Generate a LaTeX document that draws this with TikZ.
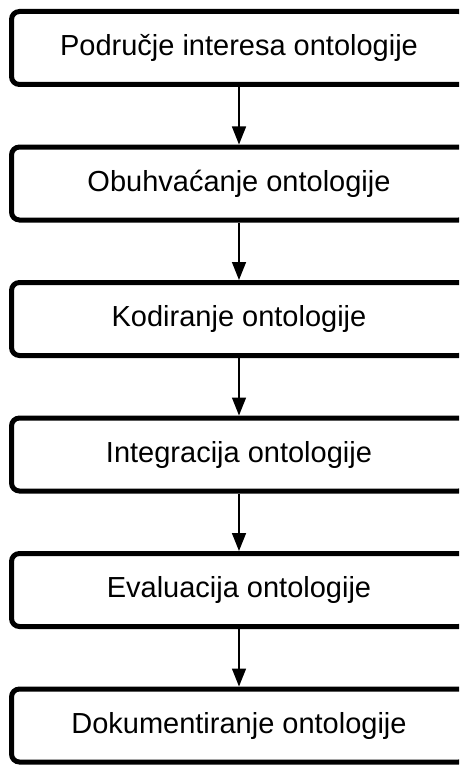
\documentclass[tikz,border=0pt]{standalone}
\usepackage{fontspec}
\setmainfont{Liberation Sans}
\usetikzlibrary{arrows.meta, positioning}

\begin{document}
\begin{tikzpicture}[x=1pt, y=-1pt,
  stage/.style={draw, line width=5pt, rounded corners=8pt, minimum width=455pt,
    minimum height=73pt, inner sep=0pt, font=\fontsize{29}{33}\selectfont},
  flow/.style={-{Triangle[length=18pt, width=14pt]}, line width=1.5pt},
  node distance=57.5pt]
\path[use as bounding box, clip] (0,0) rectangle (459,765);
\node[stage] (domain) at (239,48) {Područje interesa ontologije};
\node[stage, below=of domain] (capture) {Obuhvaćanje ontologije};
\node[stage, below=of capture] (coding) {Kodiranje ontologije};
\node[stage, below=of coding] (integration) {Integracija ontologije};
\node[stage, below=of integration] (evaluation) {Evaluacija ontologije};
\node[stage, below=of evaluation] (documentation) {Dokumentiranje ontologije};
% arrows between the stages
\foreach \a/\b in {domain/capture, capture/coding, coding/integration,
  integration/evaluation, evaluation/documentation}
  \draw[flow] (\a) -- (\b);
\end{tikzpicture}
\end{document}
